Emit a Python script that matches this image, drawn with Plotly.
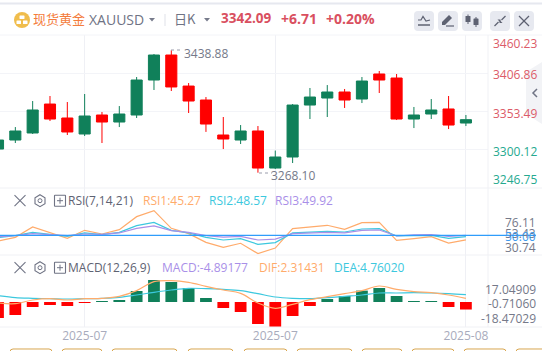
import plotly.graph_objects as go

W, H = 542, 351
RIGHT = 488
idx = list(range(28))
opens = [3301.1,3313.7,3323.5,3363.9,3344.4,3322.1,3348.6,3338.8,3348.6,3397.4,3432.3,3389.0,3369.5,3320.7,3313.7,3326.3,3274.6,3290.0,3362.5,3372.3,3380.7,3370.9,3405.8,3400.2,3343.0,3350.0,3357.0,3337.4]
closes = [3313.7,3326.3,3355.6,3343.0,3324.9,3347.2,3338.8,3350.0,3397.4,3432.3,3387.7,3368.1,3336.0,3315.1,3326.3,3274.6,3290.0,3362.5,3373.7,3380.7,3369.5,3396.0,3397.4,3343.0,3348.6,3355.6,3334.6,3342.09]
highs = [3318.0,3331.8,3368.1,3375.1,3366.7,3377.9,3352.8,3361.1,3401.6,3433.7,3438.88,3393.2,3373.7,3345.8,3334.6,3333.2,3299.0,3363.9,3386.3,3390.4,3384.9,3401.6,3410.0,3405.8,3359.8,3370.9,3375.1,3348.6]
lows = [3297.0,3309.5,3322.1,3340.2,3320.7,3319.3,3309.5,3331.8,3344.4,3383.5,3382.1,3351.4,3325.0,3301.1,3308.1,3268.10,3273.2,3281.6,3343.0,3345.8,3358.4,3365.3,3379.3,3341.6,3330.4,3343.0,3329.0,3333.2]

rsi1 = [44.0,47.9,58.8,53.2,46.8,55.3,51.4,56.0,69.7,76.11,57.4,51.8,42.6,37.3,41.6,30.74,36.6,57.0,59.2,60.6,56.3,63.4,63.7,44.7,46.5,48.6,41.9,45.27]
rsi2 = [47.5,49.6,53.2,51.4,48.9,52.5,50.7,53.2,60.2,63.7,55.3,52.5,47.9,45.1,46.5,40.5,42.3,52.5,53.5,54.2,53.5,56.7,57.0,49.3,49.6,50.0,46.8,48.57]
rsi3 = [48.6,49.6,51.8,50.7,49.6,51.4,51.0,52.5,57.4,59.9,54.9,53.2,49.6,48.2,48.9,45.1,46.1,51.8,52.8,53.2,52.5,55.3,55.6,49.3,50.4,50.7,48.9,49.92]

macd = [-10.4,-8.45,-3.25,-1.95,-2.6,-0.65,0.5,1.3,7.15,14.3,13.0,9.1,2.6,-3.9,-6.5,-14.3,-16.25,-9.1,-2.6,1.95,3.9,7.4,9.1,3.9,0.5,0.4,-3.25,-4.89]
dif = [-0.65,-1.08,1.3,2.17,1.3,2.17,2.38,3.68,7.37,13.2,13.87,12.8,10.2,7.8,5.63,-0.65,-4.1,-1.5,1.5,3.47,5.4,7.37,10.4,8.2,6.7,6.07,4.55,2.31]
dea = [4.1,2.8,2.4,2.17,1.95,2.17,2.4,3.0,4.55,6.3,7.8,8.9,8.67,8.2,7.37,5.4,3.25,2.4,2.17,2.8,3.68,4.55,5.85,5.85,6.07,5.85,5.4,4.76]

date_pos = [5, 16, 27]
date_labels = ["2025-07", "2025-07", "2025-08"]
price_grid = [3406.86, 3353.49, 3300.12]
price_labels = [("3460.23", 43.5, "#dc5b68"), ("3406.86", 74.7, "#dc5b68"), ("3353.49", 113.5, "#dc5b68"),
                ("3300.12", 151.5, "#25a98f"), ("3246.75", 179.5, "#25a98f")]
rsi_labels = [("76.11", 222.7, "#757989"), ("53.43", 233.5, "#757989"), ("50.00", 236.8, "#3f9cf0"), ("30.74", 247.3, "#757989")]
macd_labels = [("17.04909", 289.5), ("-0.71060", 303.7), ("-18.47029", 318.5)]

GREEN, RED = "#10805a", "#ff0000"
ORANGE, CYAN, PURPLE, BLUE = "#ffab6b", "#3cc8de", "#a98fe8", "#2f9dfb"
GRID = "#f3f4f8"
FONT = "Open Sans"
CJK = "Noto Sans CJK SC"


def dom(top, bottom):
    return [1 - bottom / H, 1 - top / H]


fig = go.Figure()
fig.add_trace(go.Candlestick(x=idx, open=opens, high=highs, low=lows, close=closes, xaxis="x", yaxis="y",
                             whiskerwidth=0, showlegend=False, hoverinfo="skip",
                             increasing=dict(line=dict(color=GREEN, width=1), fillcolor=GREEN),
                             decreasing=dict(line=dict(color=RED, width=1), fillcolor=RED)))
for vals, col in [(rsi1, ORANGE), (rsi2, CYAN), (rsi3, PURPLE)]:
    fig.add_trace(go.Scatter(x=idx, y=vals, mode="lines", line=dict(color=col, width=1.2), xaxis="x2", yaxis="y2",
                             showlegend=False, hoverinfo="skip"))
fig.add_trace(go.Bar(x=idx, y=macd, width=0.68, marker=dict(color=[GREEN if v > 0 else RED for v in macd], line=dict(width=0)),
                     xaxis="x3", yaxis="y3", showlegend=False, hoverinfo="skip"))
for vals, col in [(dea, CYAN), (dif, ORANGE)]:
    fig.add_trace(go.Scatter(x=idx, y=vals, mode="lines", line=dict(color=col, width=1.2, shape="spline"), xaxis="x3", yaxis="y3",
                             showlegend=False, hoverinfo="skip"))

xr = [2 / 17.33, (RIGHT + 2) / 17.33]
xcommon = dict(range=xr, domain=[0, RIGHT / W], tickmode="array", tickvals=date_pos, showgrid=True, gridcolor="#eff0f5",
               gridwidth=1, zeroline=False, showline=False, ticks="", fixedrange=True)
ycommon = dict(zeroline=False, showline=False, ticks="", showticklabels=False, fixedrange=True)

shapes = []
annots = []


def px_line(x0, y0, x1, y1, color, width=1, dash=None):
    shapes.append(dict(type="line", xref="paper", yref="paper", x0=x0 / W, x1=x1 / W, y0=1 - y0 / H, y1=1 - y1 / H,
                       line=dict(color=color, width=width, dash=dash or "solid"), layer="above"))


def px_path(d, fill=None, line=None, width=1):
    s = " ".join(f"{c}{x / W:.5f},{1 - y / H:.5f}" if c != "Z" else "Z" for c, x, y in d)
    shapes.append(dict(type="path", xref="paper", yref="paper", path=s, fillcolor=fill or "rgba(0,0,0,0)",
                       line=dict(color=line or "rgba(0,0,0,0)", width=width if line else 0), layer="above"))


def round_rect(x0, y0, x1, y1, r, fill=None, line=None, width=1):
    s = (f"M{(x0 + r) / W:.5f},{1 - y0 / H:.5f} L{(x1 - r) / W:.5f},{1 - y0 / H:.5f} "
         f"Q{x1 / W:.5f},{1 - y0 / H:.5f} {x1 / W:.5f},{1 - (y0 + r) / H:.5f} "
         f"L{x1 / W:.5f},{1 - (y1 - r) / H:.5f} Q{x1 / W:.5f},{1 - y1 / H:.5f} {(x1 - r) / W:.5f},{1 - y1 / H:.5f} "
         f"L{(x0 + r) / W:.5f},{1 - y1 / H:.5f} Q{x0 / W:.5f},{1 - y1 / H:.5f} {x0 / W:.5f},{1 - (y1 - r) / H:.5f} "
         f"L{x0 / W:.5f},{1 - (y0 + r) / H:.5f} Q{x0 / W:.5f},{1 - y0 / H:.5f} {(x0 + r) / W:.5f},{1 - y0 / H:.5f} Z")
    shapes.append(dict(type="path", xref="paper", yref="paper", path=s, fillcolor=fill or "rgba(0,0,0,0)",
                       line=dict(color=line or "rgba(0,0,0,0)", width=width if line else 0), layer="above"))


def txt(s, x, y, color, size=12, anchor="left", family=FONT, bold=False):
    annots.append(dict(text=f"<b>{s}</b>" if bold else s, x=x / W, y=1 - y / H, xref="paper", yref="paper", xanchor=anchor,
                       yanchor="middle", showarrow=False, font=dict(family=family, size=size, color=color),
                       xshift=0, yshift=0, borderpad=0))


# frame
px_line(0, 3.5, W, 3.5, "#e6e8ef", 2)
px_line(0, 35, W, 35, GRID)
px_line(RIGHT, 35, RIGHT, 327, "#f0f1f5")
for y in (188, 255, 327):
    px_line(0, y, W, y, "#f0f1f5")
# RSI 50 line
shapes.append(dict(type="line", xref="paper", yref="y2", x0=0, x1=536 / W, y0=50, y1=50, line=dict(color=BLUE, width=1.2), layer="above"))

# header
shapes.append(dict(type="circle", xref="paper", yref="paper", x0=14 / W, x1=30 / W, y0=1 - 28 / H, y1=1 - 12 / H,
                   fillcolor="#f0bd4c", line=dict(width=0), layer="above"))
for x0, y0, x1, y1 in [(19.5, 15.5, 24.5, 19), (16.5, 20.5, 21, 24), (23, 20.5, 27.5, 24)]:
    round_rect(x0, y0, x1, y1, 0.5, fill="#ffffff")
txt("现货黄金", 32, 18.5, "#f47c3c", 13, family=CJK)
txt("XAUUSD", 88, 20, "#6f7384", 14)
txt("日K", 173, 18.5, "#6f7384", 13, family=CJK)
for cx in (152, 207):
    px_path([("M", cx - 3, 18), ("L", cx + 3, 18), ("L", cx, 21.5), ("Z", 0, 0)], fill="#777b8b")
px_line(165, 14, 165, 26, "#dfe1e8")
txt("3342.09", 220, 18.5, "#d9505f", 13.5, bold=True)
txt("+6.71", 280, 18.5, "#d9505f", 14, bold=True)
txt("+0.20%", 325, 18.5, "#d9505f", 14, bold=True)

# toolbar buttons
for x0 in (414, 438, 462, 490, 514):
    round_rect(x0, 11, x0 + 20, 31, 4, fill="#e7e9f0")
IC = "#5e6272"
px_path([("M", 418, 20), ("L", 421, 20), ("L", 423, 16.5), ("L", 426, 21), ("L", 430, 20)], line=IC, width=1.2)
px_line(418, 25, 430, 25, IC, 1.5)
px_path([("M", 442, 22), ("L", 449, 15), ("L", 452, 18), ("L", 445, 25), ("L", 442, 25), ("Z", 0, 0)], fill=IC)
px_line(446, 26, 454, 26, IC, 1.2)
px_line(468, 14.5, 468, 24, IC, 1)
round_rect(465.5, 16, 470.5, 22, 0.5, fill=IC)
px_line(476, 17, 476, 27, IC, 1)
round_rect(473.5, 18.5, 478.5, 25, 0.5, fill=IC)
px_line(494.5, 26, 498.5, 22, IC, 1.3)
px_line(501.5, 20, 505.5, 16, IC, 1.3)
px_path([("M", 497.5, 19.5), ("L", 500.5, 19.5), ("L", 500.5, 22.5), ("Z", 0, 0)], fill=IC)
px_path([("M", 499.5, 23), ("L", 502.5, 23), ("L", 499.5, 20), ("Z", 0, 0)], fill=IC)
px_line(519, 16, 529, 26, IC, 1.2)
px_line(529, 16, 519, 26, IC, 1.2)

# side tab
px_path([("M", 542, 62), ("L", 526, 72), ("L", 526, 114), ("L", 542, 124), ("Z", 0, 0)], fill="#f2f3f6")
px_path([("M", 537, 89), ("L", 533, 93), ("L", 537, 97)], line="#6f7384", width=1.5)

# high/low labels
txt("3438.88", 183, 53, "#757989")
txt("3268.10", 270, 175, "#757989")
px_line(171, 50, 183, 50, "#9a9dac", 1, "dot")
px_line(259, 173, 272, 173, "#9a9dac", 1, "dot")

# axis text
for s, y, c in price_labels:
    txt(s, 538, y, c, anchor="right")
for s, y, c in rsi_labels:
    txt(s, 537, y, c, anchor="right")
for s, y in macd_labels:
    txt(s, 537, y, "#757989", anchor="right")

# indicator rows
for y in (200.7, 267.7):
    px_line(14.5, y - 5.5, 25.5, y + 5.5, "#6f7384", 1.1)
    px_line(25.5, y - 5.5, 14.5, y + 5.5, "#6f7384", 1.1)
    px_path([("M", 40, y - 6), ("L", 45, y - 3), ("L", 45, y + 3), ("L", 40, y + 6), ("L", 35, y + 3), ("L", 35, y - 3), ("Z", 0, 0)],
            line="#6f7384", width=1.1)
    shapes.append(dict(type="circle", xref="paper", yref="paper", x0=38 / W, x1=42 / W, y0=1 - (y + 2) / H, y1=1 - (y - 2) / H,
                       line=dict(color="#6f7384", width=1), layer="above"))
    round_rect(54.5, y - 5.5, 65.5, y + 5.5, 0.5, line="#6f7384", width=1.1)
    px_line(57, y, 63, y, "#6f7384", 1)
    px_line(60, y - 3, 60, y + 3, "#6f7384", 1)
txt("RSI(7,14,21)", 67, 200.7, "#5e6272")
txt("RSI1:45.27", 142, 200.7, ORANGE)
txt("RSI2:48.57", 208, 200.7, CYAN)
txt("RSI3:49.92", 274, 200.7, PURPLE)
txt("MACD(12,26,9)", 67, 267.7, "#5e6272")
txt("MACD:-4.89177", 161, 267.7, PURPLE)
txt("DIF:2.31431", 258, 267.7, ORANGE)
txt("DEA:4.76020", 333, 267.7, CYAN)

# bottom buttons, cut by the page edge
for x0, x1 in [(10, 52), (62, 102), (112, 177), (188, 233), (244, 287), (297, 352), (362, 402), (412, 454), (464, 506), (516, 560)]:
    round_rect(x0, 349, x1, 370, 3, line="#d8a650", width=1)

fig.update_layout(
    width=W, height=H, autosize=False, margin=dict(l=0, r=0, t=0, b=0), paper_bgcolor="#ffffff", plot_bgcolor="#ffffff",
    barmode="overlay", showlegend=False, shapes=shapes, annotations=annots, boxgap=0.36, boxgroupgap=0, font=dict(family=FONT),
    xaxis=dict(**xcommon, showticklabels=False, rangeslider=dict(visible=False), anchor="y"),
    xaxis2=dict(**xcommon, showticklabels=False, anchor="y2"),
    xaxis3=dict(**xcommon, showticklabels=True, ticktext=date_labels, anchor="y3", tickfont=dict(family=FONT, size=12, color="#a8abbc")),
    yaxis=dict(**ycommon, domain=dom(35, 188), range=[3246.75, 3460.23], tickmode="array", tickvals=price_grid, showgrid=True, gridcolor=GRID),
    yaxis2=dict(**ycommon, domain=dom(188, 255), range=[29.25, 99.93], showgrid=False),
    yaxis3=dict(**ycommon, domain=dom(255, 327), range=[-16.25, 30.55], showgrid=False),
)
fig.write_html("out.html", config={"displayModeBar": False},
               post_script="document.body.style.margin='0';document.body.style.overflow='hidden';")
